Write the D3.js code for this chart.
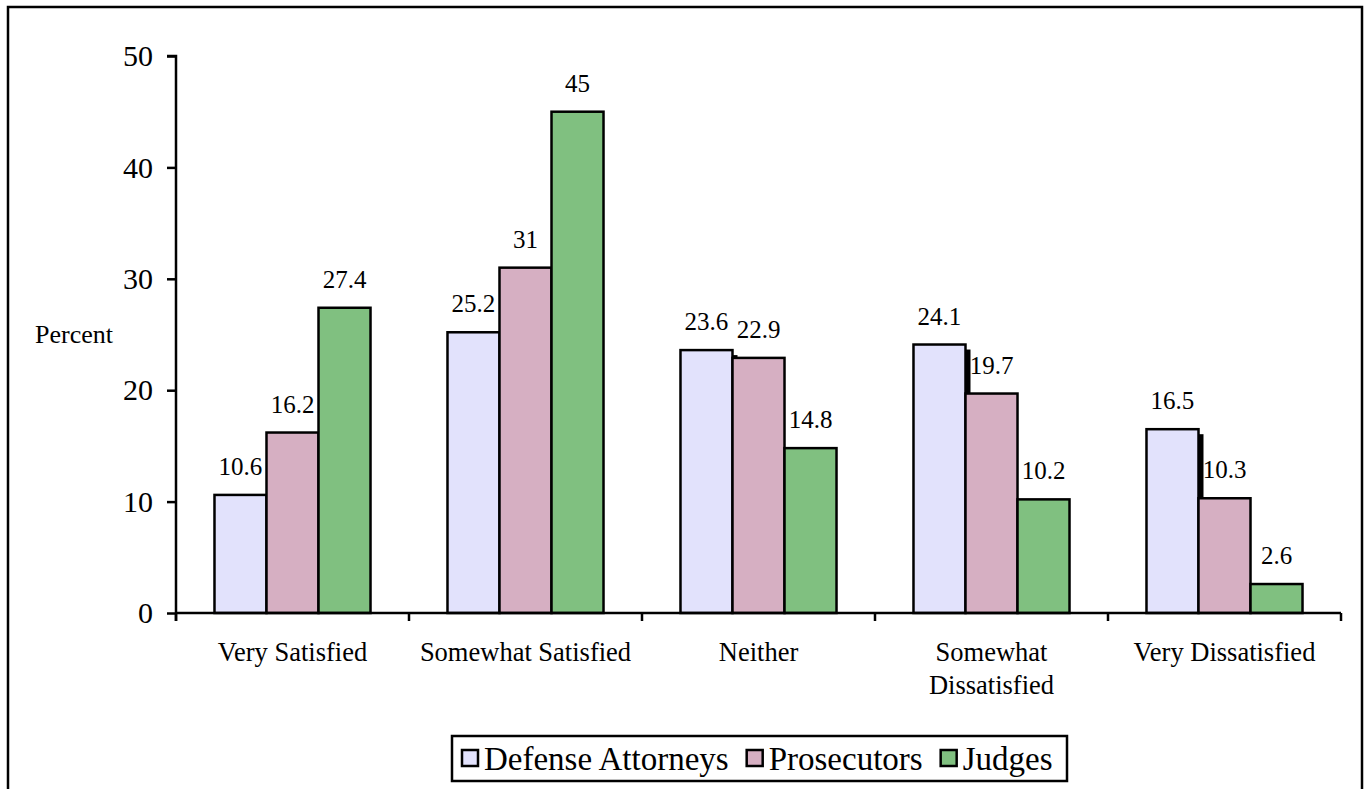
<!DOCTYPE html>
<html>
<head>
<meta charset="utf-8">
<script src="https://cdn.jsdelivr.net/npm/d3@7"></script>
<style>
  body { margin: 0; background: #fff; }
  text { font-family: "Liberation Serif", "Times New Roman", serif; fill: #000; }
</style>
</head>
<body>
<svg id="chart" width="1369" height="789"></svg>
<script>
const categories = [
  ["Very Satisfied"],
  ["Somewhat Satisfied"],
  ["Neither"],
  ["Somewhat", "Dissatisfied"],
  ["Very Dissatisfied"],
];
const seriesNames = ["Defense Attorneys", "Prosecutors", "Judges"];
const defenseValues = [10.6, 25.2, 23.6, 24.1, 16.5];
const prosecutorValues = [16.2, 31, 22.9, 19.7, 10.3];
const judgeValues = [27.4, 45, 14.8, 10.2, 2.6];
const yTicks = [0, 10, 20, 30, 40, 50];
const colors = ["#E2E2FC", "#D6AFC2", "#80C080"];

const allValues = [defenseValues, prosecutorValues, judgeValues];
const catKeys = categories.map((c) => c.join(" "));

const svg = d3.select("#chart");

// outer frame
svg.append("rect")
  .attr("x", 8).attr("y", 7)
  .attr("width", 1354).attr("height", 800)
  .attr("fill", "none").attr("stroke", "#000").attr("stroke-width", 2.5);

const plotLeft = 176, plotRight = 1341, plotTop = 56, plotBottom = 613;

const x0 = d3.scaleBand().domain(catKeys).range([plotLeft, plotRight]);
const x1 = d3.scaleBand().domain(seriesNames).range([0, x0.bandwidth()]).paddingOuter(0.74);
const y = d3.scaleLinear().domain([0, 50]).range([plotBottom, plotTop]);

// shadow behind defense bars
svg.append("g")
  .selectAll("rect")
  .data(defenseValues)
  .join("rect")
  .attr("x", (d, i) => x0(catKeys[i]) + x1(seriesNames[0]) + 5)
  .attr("y", (d) => y(d) + 5)
  .attr("width", x1.bandwidth())
  .attr("height", (d) => Math.max(0, y(0) - y(d) - 5))
  .attr("fill", "#000");

// bars
allValues.forEach((vals, s) => {
  svg.append("g")
    .selectAll("rect")
    .data(vals)
    .join("rect")
    .attr("x", (d, i) => x0(catKeys[i]) + x1(seriesNames[s]))
    .attr("y", (d) => y(d))
    .attr("width", x1.bandwidth())
    .attr("height", (d) => y(0) - y(d))
    .attr("fill", colors[s])
    .attr("stroke", "#000")
    .attr("stroke-width", 2.5);
});

// value labels
allValues.forEach((vals, s) => {
  svg.append("g")
    .selectAll("text")
    .data(vals)
    .join("text")
    .attr("x", (d, i) => x0(catKeys[i]) + x1(seriesNames[s]) + x1.bandwidth() / 2)
    .attr("y", (d) => y(d) - 20)
    .attr("text-anchor", "middle")
    .style("font-size", "25px")
    .text((d) => d);
});

// y axis
const yAxis = d3.axisLeft(y).tickValues(yTicks).tickSize(9).tickPadding(14);
const gy = svg.append("g").attr("transform", `translate(${plotLeft},0)`).call(yAxis);
gy.attr("font-family", null);
gy.select(".domain").attr("stroke-width", 2.5).attr("d", `M-9,${plotTop}H0V${plotBottom + 8}`);
gy.selectAll(".tick line").attr("stroke-width", 2.5);
gy.selectAll(".tick text").style("font-size", "30px");

// x axis
const xTickPos = catKeys.map((k) => x0(k)).concat([plotRight]);
const gx = svg.append("g").attr("transform", `translate(0,${plotBottom})`);
gx.append("line")
  .attr("x1", plotLeft).attr("x2", plotRight)
  .attr("stroke", "#000").attr("stroke-width", 2.5);
gx.selectAll("line.tk")
  .data(xTickPos)
  .join("line")
  .attr("class", "tk")
  .attr("x1", (d) => d).attr("x2", (d) => d)
  .attr("y1", 0).attr("y2", 8)
  .attr("stroke", "#000").attr("stroke-width", 2.5);

// category labels
const catLabels = svg.append("g")
  .selectAll("text")
  .data(categories)
  .join("text")
  .attr("x", (d, i) => x0(catKeys[i]) + x0.bandwidth() / 2)
  .attr("y", 661)
  .attr("text-anchor", "middle")
  .style("font-size", "26.5px");
catLabels.selectAll("tspan")
  .data((d) => d)
  .join("tspan")
  .attr("x", function () { return this.parentNode.getAttribute("x"); })
  .attr("dy", (d, i) => (i === 0 ? 0 : 33))
  .text((d) => d);

// y label
svg.append("text")
  .attr("x", 35).attr("y", 343)
  .style("font-size", "26px")
  .text("Percent");

// legend
const legend = svg.append("g");
legend.append("rect")
  .attr("x", 452).attr("y", 736)
  .attr("width", 615).attr("height", 45)
  .attr("fill", "#fff").attr("stroke", "#000").attr("stroke-width", 2.5);
let lx = 462;
seriesNames.forEach((name, s) => {
  legend.append("rect")
    .attr("x", lx).attr("y", 750)
    .attr("width", 16).attr("height", 16)
    .attr("fill", colors[s]).attr("stroke", "#000").attr("stroke-width", 2.5);
  const t = legend.append("text")
    .attr("x", lx + 22).attr("y", 770)
    .style("font-size", "33px")
    .text(name);
  lx += 22 + t.node().getComputedTextLength() + 18;
});
</script>
</body>
</html>
